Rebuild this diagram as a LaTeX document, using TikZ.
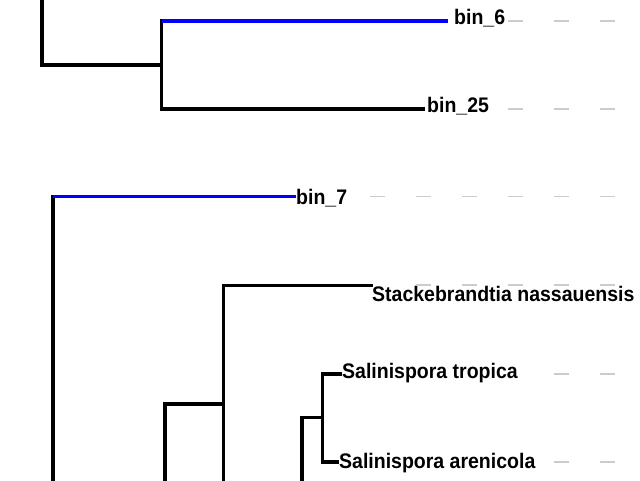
\documentclass[tikz,border=0pt]{standalone}
\usepackage{fontspec}
\usepackage{graphicx}
\setmainfont{Liberation Sans}
\newcommand{\tiptext}[1]{\scalebox{1}[1.08]{#1}}
\begin{document}
\begin{tikzpicture}[x=1pt,y=-1pt,
  br/.style={line width=3.1pt, line cap=rect, black},
  hl/.style={line width=3.1pt, color={rgb,255:red,0;green,0;blue,255}},
  guide/.style={line width=1.2pt, color=black!20, dash pattern=on 15pt off 31pt},
  lab/.style={font=\bfseries\fontsize{19.5}{20}\selectfont, anchor=base west, inner sep=0pt, fill=white}]
\useasboundingbox (0,0) rectangle (640,480);
% tree nodes
\coordinate (r1) at (42,-10);
\coordinate (n1) at (42,65);
\coordinate (n2) at (161.5,65);
\coordinate (t6) at (448,21);
\coordinate (t25) at (423,109);
\coordinate (r2) at (53,490);
\coordinate (n3) at (53,196.5);
\coordinate (t7) at (296,196.5);
\coordinate (n4b) at (165,490);
\coordinate (n4) at (165,404);
\coordinate (n5) at (223.5,404);
\coordinate (n5b) at (223.5,490);
\coordinate (ts) at (371,285.5);
\coordinate (n6b) at (302,490);
\coordinate (n6) at (302,417.5);
\coordinate (n7) at (322.5,417.5);
\coordinate (tt) at (340,374);
\coordinate (ta) at (338,462);
% guide starts and ends
\coordinate (g6) at (508,21);   \coordinate (e6) at (616,21);
\coordinate (g25) at (508,109); \coordinate (e25) at (616,109);
\coordinate (g7) at (370,196.5);\coordinate (e7) at (616,196.5);
\coordinate (gs) at (416,285);  \coordinate (es) at (616,285);
\coordinate (gt) at (554,374);  \coordinate (et) at (616,374);
\coordinate (ga) at (554,462);  \coordinate (ea) at (616,462);
% guides
\draw[guide] (g6) -- (e6);
\draw[guide] (g25) -- (e25);
\draw[guide] (g7) -- (e7);
\draw[guide] (gt) -- (et);
\draw[guide] (ga) -- (ea);
% upper clade
\draw[br] (r1) -- (n1) -- (n2);
\draw[br] (n2 |- t6) -- (n2 |- t25);
\draw[hl] (n2 |- t6) -- (t6);
\draw[br] (n2 |- t25) -- (t25);
% lower clade
\draw[br] (r2) -- (n3);
\draw[hl] (n3) -- (t7);
\draw[br] (n4b) -- (n4) -- (n5);
\draw[br] (n5b) -- (n5 |- ts) -- (ts);
\draw[br] (n6b) -- (n6) -- (n7);
\draw[br] (n7 |- tt) -- (n7 |- ta);
\draw[br] (n7 |- tt) -- (tt);
\draw[br] (n7 |- ta) -- (ta);
% labels
\node[lab] (l6) at (454,24.5) {\tiptext{bin\_6}};
\node[lab] (l25) at (427,112.5) {\tiptext{bin\_25}};
\node[lab] (l7) at (296,204.5) {\tiptext{bin\_7}};
\node[lab, fill=none] (ls) at (372,301) {\tiptext{Stackebrandtia nassauensis}};
\node[lab] (lt) at (342,378) {\tiptext{Salinispora tropica}};
\node[lab] (la) at (339,468.5) {\tiptext{Salinispora arenicola}};
% guide over the lowered label
\draw[guide] (gs) -- (es);
\end{tikzpicture}
\end{document}
